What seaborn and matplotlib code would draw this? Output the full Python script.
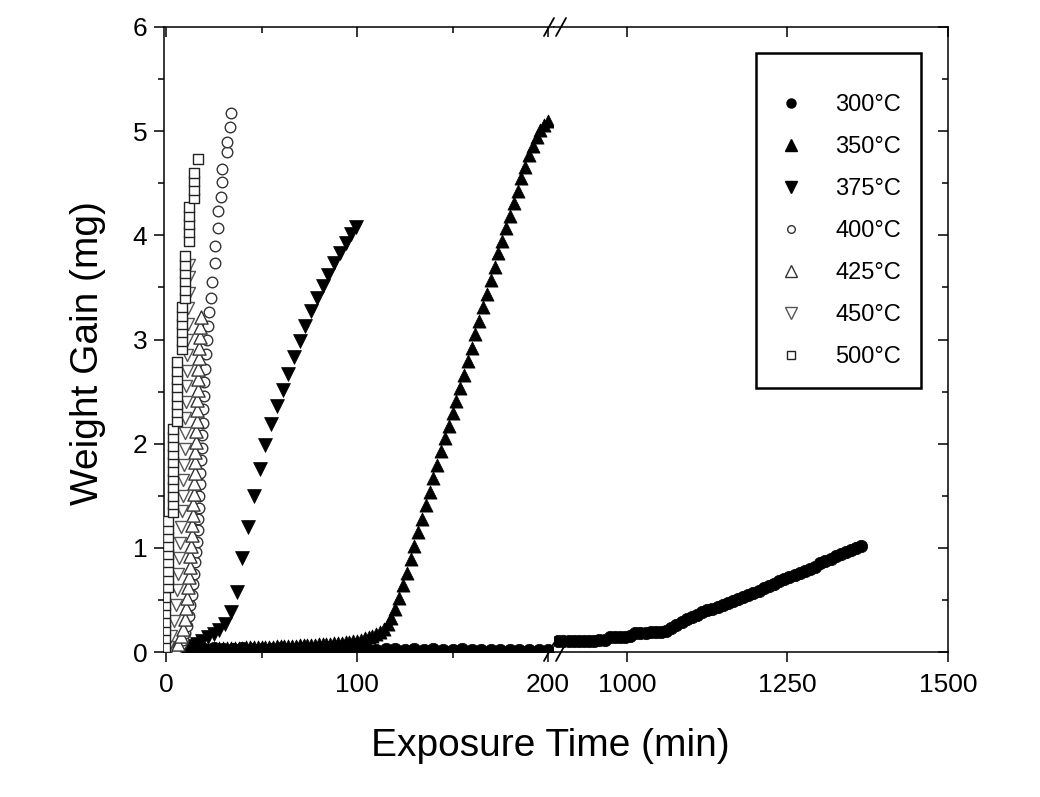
import matplotlib
matplotlib.use("Agg")
import matplotlib.pyplot as plt
import seaborn as sns
from matplotlib.lines import Line2D
from matplotlib.ticker import MultipleLocator, FixedLocator

# -----------------------------
# data (time in min, weight gain in mg)
# -----------------------------
t300 = [0, 5, 10, 15, 20, 25, 30, 35, 40, 45, 50, 55, 60, 65, 70, 75, 80, 85, 90, 95,
        100, 105, 110, 115, 120, 125, 130, 135, 140, 145, 150, 155, 160, 165, 170, 175, 180, 185, 190, 195, 200,
        893, 901, 909, 917, 925, 933, 941, 949, 957, 965,
        973, 981, 989, 997, 1005, 1013, 1021, 1029, 1037, 1045,
        1053, 1061, 1069, 1077, 1085, 1093, 1101, 1109, 1117, 1125,
        1133, 1141, 1149, 1157, 1165, 1173, 1181, 1189, 1197, 1205,
        1213, 1221, 1229, 1237, 1245, 1253, 1261, 1269, 1277, 1285,
        1293, 1301, 1309, 1317, 1325, 1333, 1341, 1349, 1357, 1365]
w300 = [0.02, 0.03, 0.03, 0.04, 0.03, 0.04, 0.03, 0.03, 0.04, 0.03, 0.03, 0.03, 0.04, 0.03, 0.03, 0.03, 0.03, 0.03, 0.03, 0.03,
        0.03, 0.03, 0.02, 0.03, 0.03, 0.02, 0.03, 0.02, 0.03, 0.02, 0.02, 0.03, 0.02, 0.02, 0.02, 0.02, 0.02, 0.02, 0.02, 0.02, 0.02,
        0.11, 0.11, 0.11, 0.11, 0.11, 0.11, 0.11, 0.11, 0.12, 0.12,
        0.14, 0.14, 0.14, 0.14, 0.15, 0.18, 0.18, 0.18, 0.19, 0.19,
        0.19, 0.20, 0.23, 0.26, 0.29, 0.32, 0.34, 0.36, 0.38, 0.40,
        0.41, 0.43, 0.45, 0.47, 0.49, 0.51, 0.53, 0.55, 0.57, 0.59,
        0.61, 0.63, 0.65, 0.68, 0.70, 0.72, 0.74, 0.76, 0.78, 0.80,
        0.82, 0.85, 0.87, 0.89, 0.92, 0.94, 0.96, 0.98, 1.00, 1.02]

t350 = [2, 4, 6, 8, 10, 12, 14, 16, 18, 20,
        22, 24, 26, 28, 30, 32, 34, 36, 38, 40,
        42, 44, 46, 48, 50, 52, 54, 56, 58, 60,
        62, 64, 66, 68, 70, 72, 74, 76, 78, 80,
        82, 84, 86, 88, 90, 92, 94, 96, 98, 100,
        102, 104, 106, 108, 110, 112, 114, 116, 118, 120,
        122, 124, 126, 128, 130, 132, 134, 136, 138, 140,
        142, 144, 146, 148, 150, 152, 154, 156, 158, 160,
        162, 164, 166, 168, 170, 172, 174, 176, 178, 180,
        182, 184, 186, 188, 190, 192, 194, 196, 198, 200]
w350 = [0.00, 0.01, 0.01, 0.02, 0.02, 0.02, 0.02, 0.03, 0.03, 0.03,
        0.03, 0.03, 0.03, 0.04, 0.04, 0.04, 0.04, 0.04, 0.04, 0.04,
        0.05, 0.05, 0.05, 0.05, 0.05, 0.05, 0.05, 0.05, 0.06, 0.06,
        0.06, 0.06, 0.06, 0.06, 0.07, 0.07, 0.07, 0.07, 0.07, 0.08,
        0.08, 0.08, 0.08, 0.09, 0.09, 0.09, 0.10, 0.10, 0.11, 0.11,
        0.12, 0.13, 0.14, 0.15, 0.17, 0.19, 0.22, 0.27, 0.33, 0.41,
        0.52, 0.64, 0.76, 0.89, 1.02, 1.15, 1.28, 1.41, 1.54, 1.67,
        1.80, 1.93, 2.05, 2.17, 2.29, 2.41, 2.53, 2.66, 2.79, 2.92,
        3.05, 3.18, 3.31, 3.44, 3.57, 3.70, 3.83, 3.95, 4.07, 4.19,
        4.31, 4.43, 4.55, 4.66, 4.77, 4.86, 4.94, 5.01, 5.06, 5.10]

t375 = [1, 4, 7, 10, 13, 16, 19, 22, 25, 28, 31, 34, 37, 40, 43, 46, 49, 52,
        55, 58, 61, 64, 67, 70, 73, 76, 79, 82, 85, 88, 91, 94, 97, 99.5]
w375 = [0.01, 0.02, 0.03, 0.05, 0.06, 0.08, 0.11, 0.14, 0.17, 0.21, 0.27, 0.38, 0.58, 0.90, 1.20, 1.50, 1.76, 1.99,
        2.19, 2.36, 2.52, 2.67, 2.83, 2.99, 3.13, 3.27, 3.40, 3.51, 3.62, 3.73, 3.83, 3.93, 4.01, 4.08]

t400 = [0.5, 2, 4, 6, 8, 9, 10, 11, 12, 12.8, 13.4, 14, 14.6, 15.2, 15.7, 16.2, 16.6, 16.9,
        17.2, 17.5, 17.8, 18, 18.3, 18.6, 18.9, 19.2, 19.5, 19.8, 20.1, 20.5, 20.9, 21.3,
        21.8, 22.4, 23.6, 23.9, 25.7, 25.7, 27.4, 27.4, 28.6, 29.2, 29.2, 31.8, 32.1, 33.5, 33.9]
w400 = [0.00, 0.01, 0.02, 0.04, 0.08, 0.12, 0.18, 0.25, 0.35, 0.45, 0.55, 0.65, 0.75, 0.86, 0.96, 1.06, 1.17, 1.28,
        1.38, 1.50, 1.61, 1.72, 1.84, 1.96, 2.08, 2.20, 2.33, 2.46, 2.59, 2.72, 2.86, 3.00,
        3.13, 3.26, 3.40, 3.55, 3.73, 3.90, 4.07, 4.23, 4.37, 4.51, 4.64, 4.80, 4.90, 5.04, 5.17]

t425 = [3, 5, 6.5, 8, 9, 10, 10.7, 11.2, 11.7, 12.1, 12.5, 12.8, 13.1, 13.4, 13.7, 14, 14.2, 14.5,
        14.7, 15, 15.2, 15.4, 15.6, 15.8, 16, 16.2, 16.4, 16.6, 16.8, 17, 17.2, 17.4, 17.6, 17.9, 18.2]
w425 = [0.00, 0.03, 0.08, 0.15, 0.22, 0.32, 0.42, 0.52, 0.62, 0.72, 0.82, 0.92, 1.02, 1.12, 1.22, 1.32, 1.42, 1.52,
        1.62, 1.72, 1.82, 1.92, 2.02, 2.12, 2.22, 2.32, 2.42, 2.52, 2.62, 2.72, 2.82, 2.92, 3.02, 3.12, 3.22]

t450 = [1, 2.5, 4, 5, 5.8, 6.4, 7, 7.5, 8, 8.4, 8.8, 9.1, 9.4, 9.7, 10, 10.2, 10.4,
        10.6, 10.8, 11, 11.2, 11.4, 11.6, 11.8, 12, 12.2]
w450 = [0.05, 0.15, 0.30, 0.45, 0.60, 0.75, 0.90, 1.05, 1.20, 1.35, 1.50, 1.65, 1.80, 1.95, 2.10, 2.25, 2.40,
        2.55, 2.70, 2.85, 3.00, 3.15, 3.30, 3.45, 3.60, 3.72]

t500 = [-0.4, -0.4, -0.4, -0.4, -0.4, -0.4, -0.4,
        1.2, 1.2, 1.2, 1.2, 1.2, 1.2, 1.2, 1.2, 1.2,
        3.5, 3.5, 3.5, 3.5, 3.5, 3.5, 3.5, 3.5, 3.5, 3.5, 3.5,
        5.8, 5.8, 5.8, 5.8, 5.8, 5.8, 5.8, 5.8,
        8.2, 8.2, 8.2, 8.2, 8.2, 8.2,
        10.0, 10.0, 10.0, 10.0, 10.0, 10.0,
        12.2, 12.2, 12.2, 12.2, 12.2,
        14.8, 14.8, 14.8, 14.8,
        16.9]
w500 = [0.05, 0.13, 0.21, 0.29, 0.37, 0.45, 0.53,
        0.62, 0.70, 0.78, 0.86, 0.94, 1.02, 1.10, 1.18, 1.26,
        1.34, 1.42, 1.50, 1.58, 1.66, 1.74, 1.82, 1.90, 1.98, 2.06, 2.14,
        2.22, 2.30, 2.38, 2.46, 2.54, 2.62, 2.70, 2.78,
        2.91, 2.99, 3.07, 3.15, 3.23, 3.31,
        3.40, 3.48, 3.56, 3.64, 3.72, 3.80,
        3.95, 4.03, 4.11, 4.19, 4.27,
        4.36, 4.44, 4.52, 4.60,
        4.73]

labels = ["300°C", "350°C", "375°C", "400°C", "425°C", "450°C", "500°C"]

# -----------------------------
# style
# -----------------------------
sns.set_style("ticks")
plt.rcParams["font.family"] = ["Liberation Sans", "DejaVu Sans"]
plt.rcParams.update({
    "axes.linewidth": 1.1,
    "axes.edgecolor": "black",
    "text.color": "black",
    "xtick.color": "black",
    "ytick.color": "black",
})

# (x, y, marker, face, edge, scatter size, legend marker size)
series = [
    (t300, w300, "o", "black", "black", 80, 6.5),
    (t350, w350, "^", "black", "black", 90, 9),
    (t375, w375, "v", "black", "black", 100, 9),
    (t400, w400, "o", "white", "#333333", 58, 5.5),
    (t425, w425, "^", "white", "#333333", 90, 8),
    (t450, w450, "v", "white", "#555555", 75, 8),
    (t500, w500, "s", "white", "#222222", 60, 6),
]

fig = plt.figure(figsize=(10.4, 7.97), dpi=100)
ax_l = fig.add_axes([164 / 1040, 145 / 797, 390 / 1040, 625 / 797])
ax_r = fig.add_axes([554 / 1040, 145 / 797, 394 / 1040, 625 / 797])

for ax in (ax_l, ax_r):
    for i, (tx, wy, mk, fc, ec, sz, _) in enumerate(series):
        sns.scatterplot(x=tx, y=wy, marker=mk, s=sz, color=fc, edgecolor=ec,
                        linewidth=1.0 if fc == "white" else 0.5,
                        legend=False, ax=ax, zorder=3 + i)
    ax.set_ylim(0, 6)
    ax.yaxis.set_major_locator(MultipleLocator(1))
    ax.yaxis.set_minor_locator(MultipleLocator(0.5))
    ax.set_xlabel("")
    ax.set_ylabel("")

ax_l.set_xlim(-1.05, 203.1)
ax_l.xaxis.set_major_locator(FixedLocator([0, 100, 200]))
ax_l.xaxis.set_minor_locator(FixedLocator([50, 150]))
ax_r.set_xlim(886.3, 1500)
ax_r.xaxis.set_major_locator(FixedLocator([1000, 1250, 1500]))

ax_l.spines["right"].set_visible(False)
ax_r.spines["left"].set_visible(False)

ax_l.tick_params(axis="y", which="both", direction="out", left=True, right=False, width=1.1)
ax_l.tick_params(axis="y", which="major", length=7, labelsize=19, pad=5)
ax_l.tick_params(axis="y", which="minor", length=4)
ax_r.tick_params(axis="y", which="both", direction="in", left=False, right=True,
                 labelleft=False, width=1.1)
ax_r.tick_params(axis="y", which="major", length=7)
ax_r.tick_params(axis="y", which="minor", length=4)
for ax in (ax_l, ax_r):
    ax.tick_params(axis="x", which="both", bottom=True, top=True, direction="out",
                   width=1.1, labelsize=19, pad=8)
    ax.tick_params(axis="x", which="major", length=7)
    ax.tick_params(axis="x", which="minor", length=4)
    # top ticks point inward
    for tk in ax.xaxis.get_major_ticks() + ax.xaxis.get_minor_ticks():
        tk.tick2line.set_marker(3)

# break marks
kw = dict(transform=ax_r.transAxes, color="black", lw=1.3, clip_on=False, zorder=20)
for cx in (-0.0127, 0.0178):
    for cy in (0.0, 1.0):
        ax_r.plot([cx - 0.0127, cx + 0.0127], [cy - 0.0144, cy + 0.0144], **kw)

fig.text(88 / 1040, 1 - 353 / 797, "Weight Gain (mg)", rotation=90, ha="center", va="center", fontsize=28)
fig.text(550 / 1040, 1 - 746 / 797, "Exposure Time (min)", ha="center", va="center", fontsize=28)

handles = [Line2D([], [], ls="", marker=mk, markersize=lms, markerfacecolor=fc,
                  markeredgecolor=ec, markeredgewidth=1.0)
           for (_, _, mk, fc, ec, _, lms) in series]
leg = ax_r.legend(handles, labels, loc="upper left", bbox_to_anchor=(0.5127, 0.958),
                  borderaxespad=0, fontsize=17, frameon=True, fancybox=False,
                  edgecolor="black", framealpha=1, title=" ", title_fontsize=1,
                  labelspacing=0.85, borderpad=0.83, handlelength=1.31, handletextpad=1.22)
leg.get_frame().set_linewidth(1.8)
leg.set_zorder(30)

plt.savefig("out.png", dpi=100)
